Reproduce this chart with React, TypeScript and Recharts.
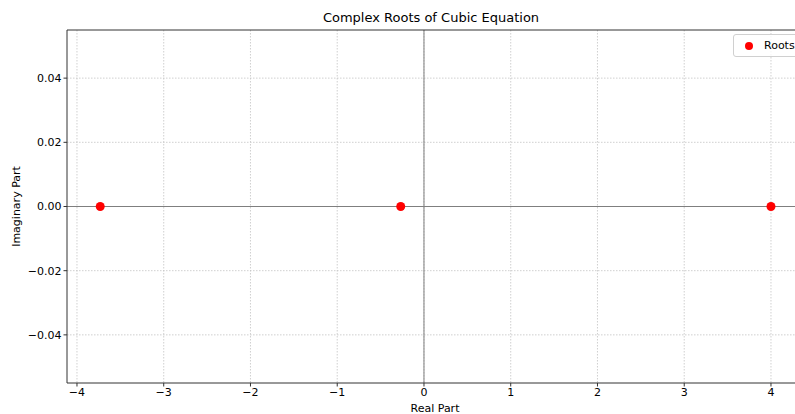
import {
  CartesianGrid,
  ReferenceLine,
  Scatter,
  ScatterChart,
  XAxis,
  YAxis,
} from "recharts"

const realParts = [-3.732, -0.268, 4.0]
const imagParts = [0, 0, 0]
const xTicks = [-4, -3, -2, -1, 0, 1, 2, 3, 4]
const yTicks = [-0.04, -0.02, 0, 0.02, 0.04]

const roots = realParts.map((re, i) => ({ re, im: imagParts[i] }))

const font = "'DejaVu Sans', sans-serif"
const minus = (s: string) => s.replace("-", "\u2212")

function RootsLegend() {
  return (
    <div
      style={{
        position: "absolute",
        left: 733,
        top: 34,
        width: 80,
        display: "flex",
        alignItems: "center",
        height: 23,
        border: "1px solid #d0d0d0",
        borderRadius: 3,
        background: "rgba(255,255,255,0.8)",
        fontFamily: font,
        fontSize: 11,
        color: "#000",
        paddingLeft: 11,
        boxSizing: "border-box",
      }}
    >
      <span style={{ width: 8, height: 8, borderRadius: "50%", background: "#ff0000", display: "inline-block" }} />
      <span style={{ marginLeft: 11 }}>Roots</span>
    </div>
  )
}

export default function App() {
  return (
    <div style={{ position: "absolute", left: 0, top: 0, width: 795, height: 414, overflow: "hidden", background: "#fff" }}>
      <div
        style={{
          position: "absolute",
          top: 10,
          left: 0,
          width: 862,
          textAlign: "center",
          fontFamily: font,
          fontSize: 13,
          color: "#000",
        }}
      >
        Complex Roots of Cubic Equation
      </div>
      <ScatterChart width={795} height={414} margin={{ top: 30, right: 0, bottom: 0, left: 0 }}>
        <CartesianGrid stroke="#c4c4c4" strokeDasharray="1.5 1.5" strokeWidth={0.8} horizontalValues={yTicks} verticalValues={xTicks} />
        <XAxis
          type="number"
          dataKey="re"
          domain={[-4.115, 4.277]}
          ticks={xTicks}
          allowDataOverflow
          height={31}
          stroke="#333"
          tickSize={3.5}
          tick={{ fill: "#000", fontSize: 11, fontFamily: font }}
          tickFormatter={(v: number) => minus(String(v))}
          label={{ value: "Real Part", position: "insideBottom", offset: 2, dx: 4, fill: "#000", fontSize: 11, fontFamily: font }}
        />
        <YAxis
          type="number"
          dataKey="im"
          domain={[-0.055, 0.055]}
          ticks={yTicks}
          allowDataOverflow
          width={67}
          stroke="#333"
          tickSize={3.5}
          tick={{ fill: "#000", fontSize: 11, fontFamily: font }}
          tickFormatter={(v: number) => minus(v.toFixed(2))}
          label={{ value: "Imaginary Part", angle: -90, position: "insideLeft", offset: 16, fill: "#000", fontSize: 11, fontFamily: font, style: { textAnchor: "middle" } }}
        />
        <ReferenceLine y={0} stroke="#7f7f7f" strokeWidth={1} />
        <ReferenceLine x={0} stroke="#7f7f7f" strokeWidth={1} />
        <ReferenceLine y={0.055} stroke="#333" strokeWidth={1} />
        <Scatter
          name="Roots"
          data={roots}
          fill="#ff0000"
          shape={(p: any) => <circle cx={p.cx} cy={p.cy} r={4.5} fill="#ff0000" />}
          isAnimationActive={false}
        />
      </ScatterChart>
      <RootsLegend />
    </div>
  )
}
